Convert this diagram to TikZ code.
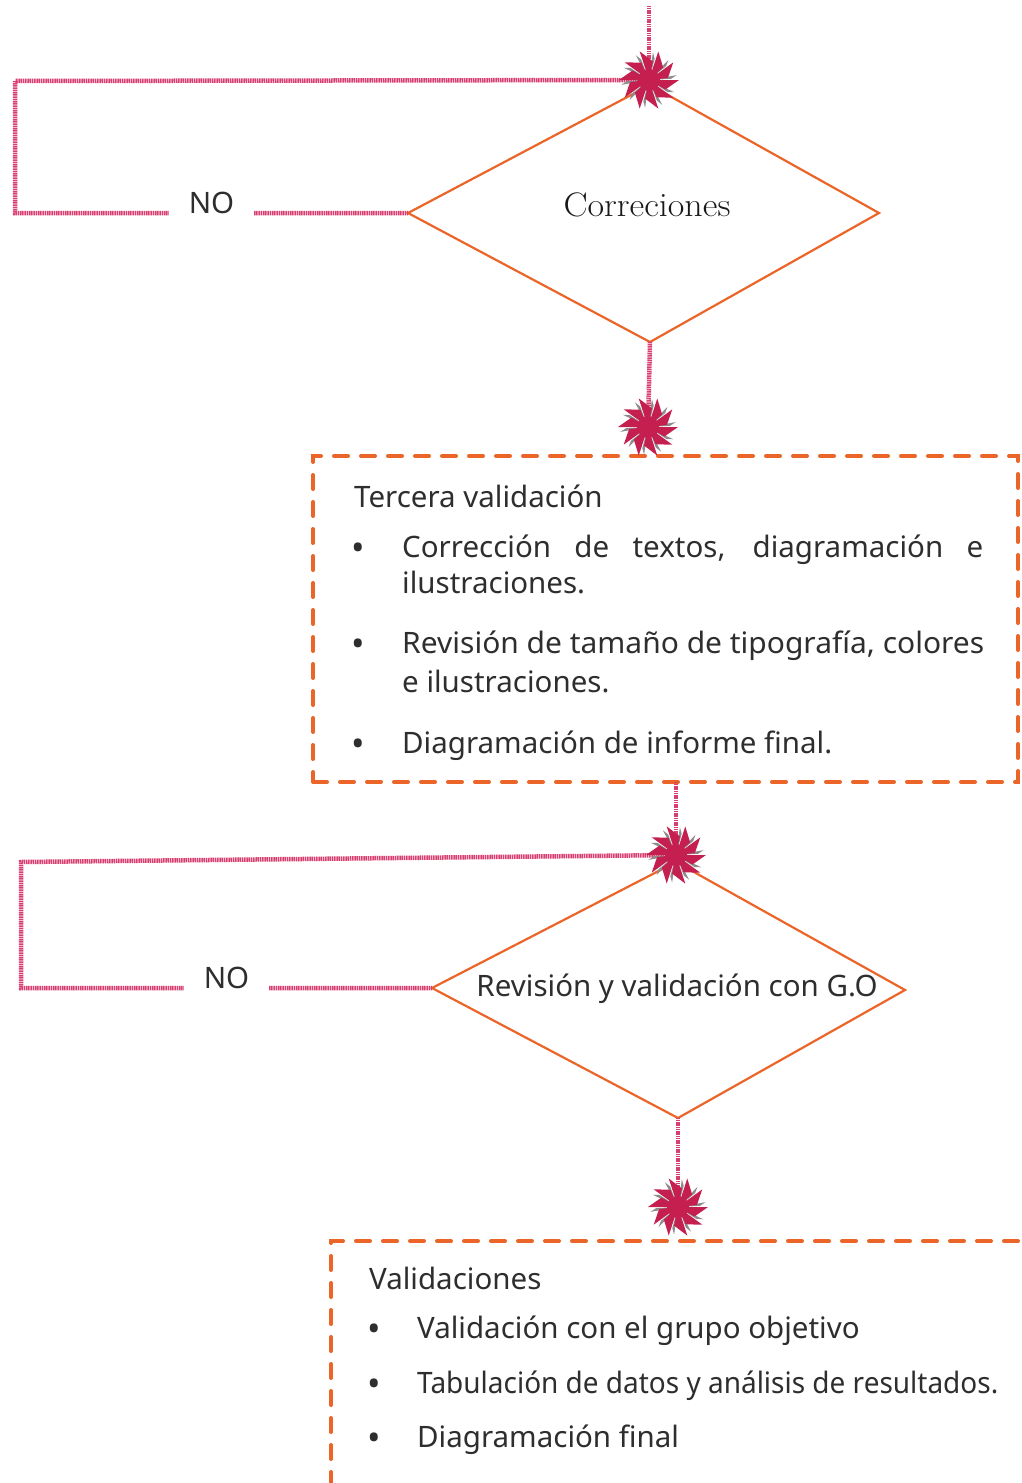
\documentclass[tikz,border=0pt]{standalone}
\usepackage{fontspec}
\newfontfamily\bodyfont{Noto Sans}
\usetikzlibrary{calc}
\definecolor{orng}{HTML}{EB6428}
\definecolor{pinkline}{HTML}{D83F70}
\definecolor{crim}{HTML}{C41F4F}
\definecolor{stargrey}{HTML}{8C8C8E}
\definecolor{txt}{HTML}{2E2E2E}
\tikzset{
 conn/.style={draw=pinkline, line width=4.5pt, dash pattern=on 1.2pt off 0.6pt},
 dmd/.style={draw=orng, line width=2.2pt, line join=miter},
 dbox/.style={draw=orng, line width=4pt, dash pattern=on 14pt off 13pt, line cap=round, rectangle, inner sep=0pt},
 bodyfnt/.style={font=\bodyfont\fontsize{29.5}{35}\selectfont, text=txt},
 body/.style={bodyfnt, inner sep=0pt, anchor=base west},
 bul/.style={font=\bodyfont\fontsize{36}{36}\selectfont, text=txt, inner sep=0pt, anchor=base, yshift=-3pt},
 nolab/.style={fill=white, bodyfnt, inner xsep=20pt, inner ysep=12pt, yshift=10pt},
 burst/.pic={
  \foreach \a in {0,36,...,324}{
   \fill[stargrey] (0,0) -- (\a-10:28) -- (\a-3:22) -- cycle;
  }
  \foreach \a in {0,36,...,324}{
   \fill[crim] (0,0) -- (\a:30) -- (\a+30:19) -- cycle;
  }
  \fill[crim] (0,0) circle (11);
 }
}
\newcommand{\fitline}[2]{\resizebox{#1}{\height}{#2}}
\begin{document}
\begin{tikzpicture}[x=1pt,y=-1pt]
\useasboundingbox (0,0) rectangle (1021,1483);
% ---- diamond 1
\coordinate (d1t) at (650,85);
\coordinate (d1l) at (408,213);
\coordinate (d1r) at (879,213);
\coordinate (d1b) at (650,342);
\draw[dmd] (d1t) -- (d1r) -- (d1b) -- (d1l) -- cycle;
\node[font=\fontsize{34}{40}\selectfont, text=black!90, anchor=base, inner sep=0pt] (d1) at (647,216) {\scalebox{1.06}[1]{Correciones}};
% ---- star coordinates
\coordinate (s1) at (649,80);
\coordinate (s2) at (648,427);
\coordinate (s3) at (676,855);
\coordinate (s4) at (678,1207);
\coordinate (start) at (649,6);
\coordinate (c1a) at (15,213);
\coordinate (c1b) at (15,81);
% ---- box 1
\node[dbox, minimum width=705pt, minimum height=326pt] (b1) at (665.5,619) {};
\coordinate (b1out) at (676,782);
% ---- diamond 2
\coordinate (d2t) at (676,862);
\coordinate (d2l) at (432,988);
\coordinate (d2r) at (905,990);
\coordinate (d2b) at (678,1118);
\draw[dmd] (d2t) -- (d2r) -- (d2b) -- (d2l) -- cycle;
\node[bodyfnt, anchor=base, inner sep=0pt] (d2) at (677,996) {Revisión y validación con G.O};
\coordinate (c2a) at (21,988);
\coordinate (c2b) at (21,862);
% ---- box 2 (runs off the page)
\begin{scope}
\clip (0,0) rectangle (1021,1483);
\node[dbox, minimum width=720pt, minimum height=300pt, anchor=north west] (b2) at (329,1239) {};
\end{scope}
% ---- connectors
\draw[conn] (start) -- (s1);
\draw[conn] (d1l) -- node[nolab] (no1) {NO} (c1a) -- (c1b) -- (s1);
\draw[conn] (d1b) -- (s2);
\draw[conn] (b1out) -- (s3);
\draw[conn] (d2l) -- node[nolab] (no2) {NO} (c2a) -- (c2b) -- (s3);
\draw[conn] (d2b) -- (s4);
% ---- bursts (arrow ends)
\pic at (s1) {burst};
\pic at (s2) {burst};
\pic at (s3) {burst};
\pic at (s4) {burst};
% ---- box 1 text
\node[body] (h1) at (354,507) {Tercera validación};
\node[bul] (k1) at (358,557) {\textbullet};
\node[body] (i1a) at (402,557) {\makebox[581pt][s]{Corrección de textos, diagramación e}};
\node[body] (i1b) at (402,593) {ilustraciones.};
\node[bul] (k2) at (358,653) {\textbullet};
\node[body] (i2a) at (402,653) {\fitline{582pt}{Revisión de tamaño de tipografía, colores}};
\node[body] (i2b) at (402,692) {e ilustraciones.};
\node[bul] (k3) at (358,753) {\textbullet};
\node[body] (i3) at (402,753) {Diagramación de informe final.};
% ---- box 2 text
\node[body] (h2) at (369,1289) {Validaciones};
\node[bul] (k4) at (374,1338) {\textbullet};
\node[body] (j1) at (417,1338) {Validación con el grupo objetivo};
\node[bul] (k5) at (374,1393) {\textbullet};
\node[body] (j2) at (417,1393) {\fitline{581pt}{Tabulación de datos y análisis de resultados.}};
\node[bul] (k6) at (374,1447) {\textbullet};
\node[body] (j3) at (417,1447) {Diagramación final};
\end{tikzpicture}
\end{document}
